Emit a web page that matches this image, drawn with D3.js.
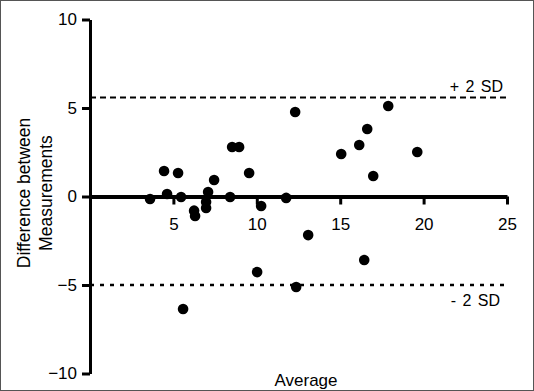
<!DOCTYPE html>
<html>
<head>
<meta charset="utf-8">
<script src="https://cdn.jsdelivr.net/npm/d3@7"></script>
<style>
  body { margin: 0; background: #fff; }
  svg { display: block; font-family: "Liberation Sans", Arial, sans-serif; }
</style>
</head>
<body>
<div id="chart"></div>
<script>
// Bland-Altman data: average vs difference between measurements
var averages = [3.6, 4.44, 4.62, 5.28, 5.46, 5.58, 6.24, 6.3, 6.96, 6.96, 7.08, 7.44,
                8.4, 8.52, 8.94, 9.54, 10.26, 11.76, 12.3, 15.06, 13.08, 17.88, 16.62,
                16.14, 19.62, 16.98, 10.02, 12.36, 16.44];
var differences = [-0.14, 1.44, 0.14, 1.33, -0.03, -6.36, -0.8, -1.1, -0.65, -0.31, 0.25, 0.93,
                   -0.03, 2.8, 2.8, 1.33, -0.54, -0.08, 4.77, 2.4, -2.18, 5.11, 3.81,
                   2.91, 2.51, 1.16, -4.27, -5.11, -3.59];
var xTicks = [5, 10, 15, 20, 25];
var yTicks = [-10, -5, 0, 5, 10];
var upperSD = 5.6;
var lowerSD = -5.0;

var width = 534, height = 391;
var margin = {top: 19.5, right: 27, bottom: 17.5, left: 90};
var chartWidth = 507 - margin.left;
var chartHeight = height - margin.top - margin.bottom;

var svg = d3.select("#chart").append("svg")
    .attr("width", width)
    .attr("height", height);

// frame round the picture
svg.append("rect")
    .attr("x", 0.5).attr("y", 0.5)
    .attr("width", width - 1).attr("height", height - 1)
    .attr("fill", "none")
    .attr("stroke", "#555");

var g = svg.append("g")
    .attr("transform", `translate(${margin.left}, ${margin.top})`);

var xScale = d3.scaleLinear().domain([0, 25]).range([0, chartWidth]);
var yScale = d3.scaleLinear().domain([-10, 10]).range([chartHeight, 0]);

// y axis
var yAxis = d3.axisLeft(yScale)
    .tickValues(yTicks)
    .tickSize(8)
    .tickSizeOuter(0)
    .tickPadding(5);

var yG = g.append("g").call(yAxis);
yG.select(".domain").attr("stroke-width", 3);
yG.selectAll(".tick line").attr("stroke-width", 3);
yG.selectAll(".tick text").attr("font-size", 17).attr("fill", "#000");

// x axis on the zero line
var xAxis = d3.axisBottom(xScale)
    .tickValues(xTicks)
    .tickSize(8)
    .tickSizeOuter(0)
    .tickPadding(13);

var xG = g.append("g")
    .attr("transform", `translate(0, ${yScale(0)})`)
    .call(xAxis);
xG.select(".domain").attr("stroke-width", 4);
xG.selectAll(".tick line").attr("stroke-width", 3);
xG.selectAll(".tick text").attr("font-size", 17).attr("fill", "#000");

// limits of agreement
g.append("line")
    .attr("x1", xScale(0)).attr("x2", xScale(25))
    .attr("y1", yScale(upperSD)).attr("y2", yScale(upperSD))
    .attr("stroke", "#000")
    .attr("stroke-width", 2)
    .attr("stroke-dasharray", "6,4");

g.append("line")
    .attr("x1", xScale(0)).attr("x2", xScale(25))
    .attr("y1", yScale(lowerSD)).attr("y2", yScale(lowerSD))
    .attr("stroke", "#000")
    .attr("stroke-width", 2.5)
    .attr("stroke-dasharray", "4,6");

g.append("text")
    .attr("x", xScale(25) - 4)
    .attr("y", yScale(upperSD) - 5)
    .attr("text-anchor", "end")
    .attr("font-size", 16)
    .attr("word-spacing", 2)
    .text("+ 2 SD");

g.append("text")
    .attr("x", xScale(25) - 7)
    .attr("y", yScale(lowerSD) + 21)
    .attr("text-anchor", "end")
    .attr("font-size", 16)
    .attr("word-spacing", 2)
    .text("- 2 SD");

// points
g.selectAll("circle")
    .data(averages)
    .enter()
    .append("circle")
    .attr("cx", d => xScale(d))
    .attr("cy", (d, i) => yScale(differences[i]))
    .attr("r", 5.3)
    .attr("fill", "#000");

// axis titles
svg.append("text")
    .attr("x", 306)
    .attr("y", 386)
    .attr("text-anchor", "middle")
    .attr("font-size", 17)
    .text("Average");

var yTitle = svg.append("text")
    .attr("transform", "translate(30, 193) rotate(-90)")
    .attr("text-anchor", "middle")
    .attr("font-size", 17.5);
yTitle.append("tspan").attr("x", 0).attr("y", 0).text("Difference between");
yTitle.append("tspan").attr("x", 0).attr("y", 22).text("Measurements");
</script>
</body>
</html>
